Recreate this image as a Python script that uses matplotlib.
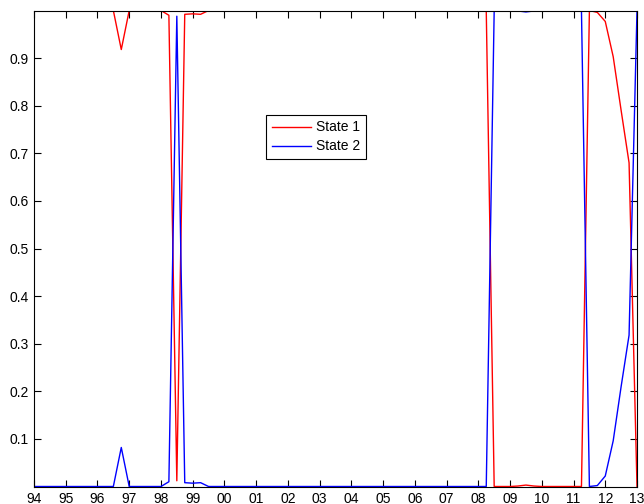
import numpy as np
import matplotlib
matplotlib.use("Agg")
import matplotlib.pyplot as plt

# quarterly filtered probabilities, 1994Q1 .. 2013Q1
state1 = [
    1.0, 1.0, 1.0, 1.0,        # 94
    1.0, 1.0, 1.0, 1.0,        # 95
    1.0, 1.0, 1.0, 0.918,      # 96
    1.0, 1.0, 1.0, 1.0,        # 97
    1.0, 0.99, 0.012, 0.992,   # 98
    0.993, 0.992, 1.0, 1.0,    # 99
    1.0, 1.0, 1.0, 1.0,        # 00
    1.0, 1.0, 1.0, 1.0,        # 01
    1.0, 1.0, 1.0, 1.0,        # 02
    1.0, 1.0, 1.0, 1.0,        # 03
    1.0, 1.0, 1.0, 1.0,        # 04
    1.0, 1.0, 1.0, 1.0,        # 05
    1.0, 1.0, 1.0, 1.0,        # 06
    1.0, 1.0, 1.0, 1.0,        # 07
    1.0, 1.0, 0.0, 0.0,        # 08
    0.0, 0.001, 0.003, 0.001,  # 09
    0.0, 0.0, 0.0, 0.0,        # 10
    0.0, 0.0, 1.0, 0.996,      # 11
    0.977, 0.903, 0.79, 0.68,  # 12
    0.0,                       # 13
]
state2 = [
    0.0, 0.0, 0.0, 0.0,
    0.0, 0.0, 0.0, 0.0,
    0.0, 0.0, 0.0, 0.082,
    0.0, 0.0, 0.0, 0.0,
    0.0, 0.01, 0.988, 0.008,
    0.007, 0.008, 0.0, 0.0,
    0.0, 0.0, 0.0, 0.0,
    0.0, 0.0, 0.0, 0.0,
    0.0, 0.0, 0.0, 0.0,
    0.0, 0.0, 0.0, 0.0,
    0.0, 0.0, 0.0, 0.0,
    0.0, 0.0, 0.0, 0.0,
    0.0, 0.0, 0.0, 0.0,
    0.0, 0.0, 0.0, 0.0,
    0.0, 0.0, 1.0, 1.0,
    1.0, 0.999, 0.997, 0.999,
    1.0, 1.0, 1.0, 1.0,
    1.0, 1.0, 0.0, 0.002,
    0.022, 0.096, 0.21, 0.318,
    1.0,
]
dates = 94 + np.arange(len(state1)) / 4.0

year_ticks = np.arange(94, 114)
year_labels = ["%02d" % (y % 100) for y in year_ticks]
prob_ticks = [0.1, 0.2, 0.3, 0.4, 0.5, 0.6, 0.7, 0.8, 0.9]

plt.rcParams["font.family"] = ["Liberation Sans", "DejaVu Sans"]

fig = plt.figure(figsize=(6.44, 5.04), dpi=100)
ax = fig.add_axes([34 / 644, 17.5 / 504, 603 / 644, 476 / 504])

ax.plot(dates, state1, color="#ff0000", lw=1.0, label="State 1")
ax.plot(dates, state2, color="#0000ff", lw=1.0, label="State 2")

ax.set_xlim(94, 113)
ax.set_ylim(0, 1)
ax.set_xticks(year_ticks)
ax.set_xticklabels(year_labels)
ax.set_yticks(prob_ticks)
ax.set_yticklabels(["%.1f" % v for v in prob_ticks])
ax.tick_params(direction="in", length=5, width=0.8, top=True, right=True,
               labelsize=10, pad=4)
for sp in ax.spines.values():
    sp.set_linewidth(0.8)

leg = ax.legend(loc="lower left", bbox_to_anchor=(0.385, 0.688), fontsize=10,
                handlelength=2.8, fancybox=False, framealpha=1,
                borderaxespad=0, borderpad=0.4, labelspacing=0.36,
                handletextpad=0.4)
leg.get_frame().set_edgecolor("black")
leg.get_frame().set_linewidth(0.8)

fig.savefig("out.png", dpi=100)
